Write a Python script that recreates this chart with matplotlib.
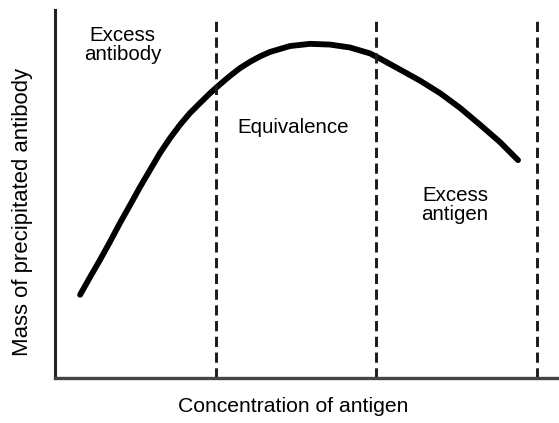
import matplotlib
matplotlib.use("Agg")
import matplotlib.pyplot as plt

plt.rcParams['font.family'] = ['Liberation Sans', 'DejaVu Sans']

# precipitation curve (arbitrary units)
conc = [0.156, 0.218, 0.280, 0.342, 0.404, 0.467, 0.529, 0.591, 0.653,
        0.716, 0.778, 0.840, 0.902, 0.965, 1.027, 1.089, 1.151, 1.213,
        1.276, 1.338, 1.462, 1.587, 1.711, 1.836, 1.960, 2.022, 2.147,
        2.271, 2.396, 2.520, 2.645, 2.769, 2.881]
mass = [2.26, 2.74, 3.21, 3.70, 4.21, 4.70, 5.19, 5.65, 6.11,
        6.52, 6.88, 7.20, 7.47, 7.74, 7.98, 8.21, 8.42, 8.59,
        8.74, 8.86, 9.02, 9.08, 9.06, 8.98, 8.82, 8.68, 8.38,
        8.08, 7.74, 7.34, 6.88, 6.41, 5.92]

# zone boundaries
bounds = [1.0, 2.0, 3.0]
zone_labels = ["Excess\nantibody", "Equivalence", "Excess\nantigen"]
zone_x = [0.42, 1.48, 2.49]
zone_y = [9.05, 6.8, 4.7]

fig = plt.figure(figsize=(5.59, 4.23), dpi=100)
ax = fig.add_axes([0.0984, 0.1064, 0.9016, 0.8700])

ax.plot(conc, mass, color='black', lw=4.2, solid_capstyle='round',
        solid_joinstyle='round')

for b in bounds:
    ax.plot([b, b], [0, 9.73], color='#1a1a1a', lw=2.1,
            linestyle=(0, (3.5, 1.9)))

for lab, x, y in zip(zone_labels, zone_x, zone_y):
    ax.text(x, y, lab, ha='center', va='center', fontsize=14.8,
            linespacing=1.05)

ax.set_xlim(0, 3.136)
ax.set_ylim(0, 10)
ax.set_xticks([])
ax.set_yticks([])
for s in ['top', 'right']:
    ax.spines[s].set_visible(False)
ax.spines['left'].set_linewidth(2.2)
ax.spines['left'].set_color('#222222')
ax.spines['bottom'].set_linewidth(2.4)
ax.spines['bottom'].set_color('#444444')

fig.text(293 / 559, 1 - 406 / 423, "Concentration of antigen",
         ha='center', va='center', fontsize=15.2)
fig.text(23 / 559, 1 - 212 / 423, "Mass of precipitated antibody",
         ha='center', va='center', rotation=90, fontsize=15.9)

fig.savefig('out.png', dpi=100)
